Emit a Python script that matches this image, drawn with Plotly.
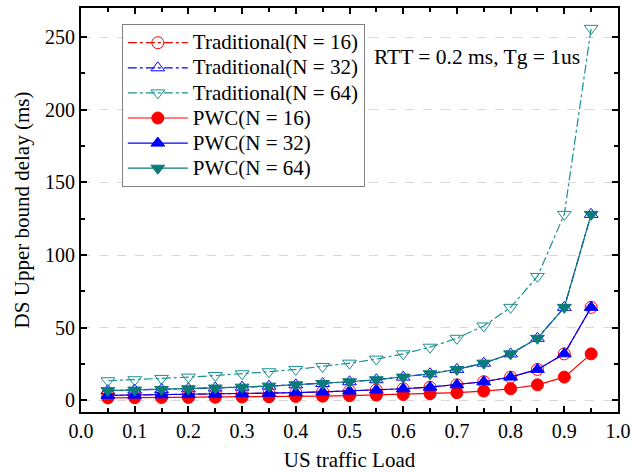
import plotly.graph_objects as go

load = [0.05, 0.10, 0.15, 0.20, 0.25, 0.30, 0.35, 0.40, 0.45, 0.50,
        0.55, 0.60, 0.65, 0.70, 0.75, 0.80, 0.85, 0.90, 0.95]

trad16 = [3.4, 3.6, 3.8, 4.0, 4.3, 4.6, 4.9, 5.3, 5.8, 6.4,
          7.1, 8.0, 9.1, 10.7, 12.8, 16.0, 21.3, 32.0, 64.0]
trad32 = [6.7, 7.1, 7.5, 8.0, 8.5, 9.1, 9.8, 10.7, 11.6, 12.8,
          14.2, 16.0, 18.3, 21.3, 25.6, 32.0, 42.7, 64.0, 128.0]
trad64 = [13.5, 14.2, 15.1, 16.0, 17.1, 18.3, 19.7, 21.3, 23.3, 25.6,
          28.4, 32.0, 36.6, 42.7, 51.2, 64.0, 85.3, 128.0, 256.0]
pwc16 = [1.7, 1.8, 1.9, 2.0, 2.1, 2.3, 2.5, 2.7, 2.9, 3.2,
         3.6, 4.0, 4.6, 5.3, 6.4, 8.0, 10.7, 16.0, 32.0]
pwc32 = [3.4, 3.6, 3.8, 4.0, 4.3, 4.6, 4.9, 5.3, 5.8, 6.4,
         7.1, 8.0, 9.1, 10.7, 12.8, 16.0, 21.3, 32.0, 64.0]
pwc64 = [6.7, 7.1, 7.5, 8.0, 8.5, 9.1, 9.8, 10.7, 11.6, 12.8,
         14.2, 16.0, 18.3, 21.3, 25.6, 32.0, 42.7, 64.0, 128.0]

names = ["Traditional(N = 16)", "Traditional(N = 32)", "Traditional(N = 64)",
         "PWC(N = 16)", "PWC(N = 32)", "PWC(N = 64)"]
series = [trad16, trad32, trad64, pwc16, pwc32, pwc64]
colors = ["#FF0000", "#0000FF", "#1A9090", "#FF0000", "#0000FF", "#0A7A7A"]
symbols = ["circle-open", "triangle-up-open", "triangle-down-open",
           "circle", "triangle-up", "triangle-down"]
dashes = ["dashdot", "dashdot", "dashdot", "solid", "solid", "solid"]

FONT = "Liberation Serif"

fig = go.Figure()
for name, ys, c, s, d in zip(names, series, colors, symbols, dashes):
    fig.add_trace(go.Scatter(
        x=load, y=ys, name='<span style="font-size:21px">' + name + '</span>',
        mode="lines+markers",
        line=dict(color=c, width=1.2, dash=d),
        marker=dict(symbol=s, size=12, color=c, line=dict(color=c, width=1)),
    ))

fig.add_annotation(x=0.542, y=0.879, xref="paper", yref="paper",
                   text="RTT = 0.2 ms, Tg = 1us", showarrow=False,
                   xanchor="left", yanchor="middle",
                   font=dict(family=FONT, size=21.5, color="black"))

axis_common = dict(showline=True, linecolor="black", linewidth=2, mirror="ticks",
                   ticks="inside", ticklen=6, tickwidth=1.5, tickcolor="black",
                   zeroline=False, automargin=False,
                   tickfont=dict(family=FONT, size=20, color="black"))

fig.update_xaxes(range=[0, 1.0], dtick=0.1, tickformat=".1f", showgrid=False,
                 minor=dict(dtick=0.05, ticks="inside", ticklen=4, tickcolor="black", showgrid=False),
                 title=dict(text="US traffic Load", font=dict(family=FONT, size=21, color="black"), standoff=14),
                 **axis_common)
fig.update_yaxes(range=[-8, 270], dtick=50, showgrid=True, gridcolor="#D8D8D8",
                 griddash="dash", gridwidth=1,
                 minor=dict(dtick=25, ticks="inside", ticklen=4, tickcolor="black", showgrid=False),
                 title=dict(text="DS Upper bound delay (ms)", font=dict(family=FONT, size=21, color="black"), standoff=10),
                 **axis_common)

fig.update_layout(
    width=632, height=472,
    margin=dict(l=81, r=14, t=8, b=60),
    plot_bgcolor="white", paper_bgcolor="white",
    font=dict(family=FONT, color="black"),
    legend=dict(x=0.076, y=0.96, xanchor="left", yanchor="top",
                bordercolor="#808080", borderwidth=1, bgcolor="white",
                font=dict(family=FONT, size=17, color="black"),
                itemwidth=60, tracegroupgap=0),
)

fig.write_html("out.html")
